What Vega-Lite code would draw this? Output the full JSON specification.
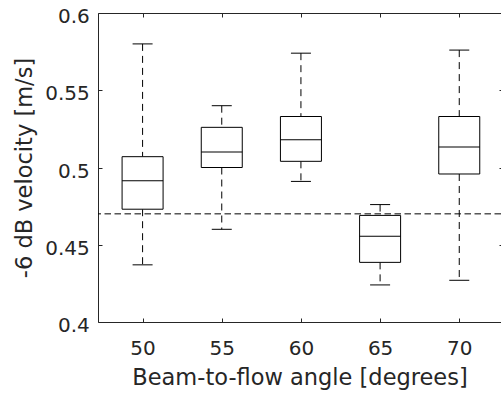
{
  "$schema": "https://vega.github.io/schema/vega-lite/v6.json",
  "autosize": {"type": "none"},
  "padding": {"left": 98, "top": 13, "right": 0, "bottom": 77},
  "width": 403,
  "height": 309,
  "background": "white",
  "config": {
    "view": {"stroke": null},
    "axis": {
      "domainColor": "#262626",
      "tickColor": "#262626",
      "labelColor": "#262626",
      "titleColor": "#262626",
      "labelFont": "DejaVu Sans",
      "titleFont": "DejaVu Sans",
      "labelFontSize": 20,
      "titleFontSize": 22.5,
      "titleFontWeight": "normal",
      "grid": false,
      "labelFlush": false,
      "labelOverlap": false,
      "domainWidth": 1,
      "tickWidth": 1,
      "tickSize": -4
    }
  },
  "datasets": {
    "boxes": [
      {"angle": 50, "lower": 0.437, "q1": 0.473, "median": 0.4915, "q3": 0.507, "upper": 0.580},
      {"angle": 55, "lower": 0.460, "q1": 0.500, "median": 0.510, "q3": 0.526, "upper": 0.540},
      {"angle": 60, "lower": 0.491, "q1": 0.504, "median": 0.518, "q3": 0.533, "upper": 0.574},
      {"angle": 65, "lower": 0.424, "q1": 0.4386, "median": 0.4555, "q3": 0.469, "upper": 0.476},
      {"angle": 70, "lower": 0.427, "q1": 0.4958, "median": 0.5133, "q3": 0.533, "upper": 0.576}
    ],
    "threshold": [{"level": 0.47}]
  },
  "data": {"name": "boxes"},
  "layer": [
    {
      "mark": {"type": "rule", "color": "#000000", "strokeWidth": 1, "strokeDash": [7, 5]},
      "encoding": {
        "x": {"field": "angle", "type": "quantitative",
              "scale": {"domain": [47.5, 72.32], "nice": false, "zero": false},
              "axis": {"orient": "bottom", "values": [50, 55, 60, 65, 70], "title": "Beam-to-flow angle [degrees]",
                       "labelPadding": 20, "titlePadding": 8}},
        "y": {"field": "upper", "type": "quantitative",
              "scale": {"domain": [0.4, 0.6], "nice": false, "zero": false},
              "axis": {"orient": "left", "values": [0.4, 0.45, 0.5, 0.55, 0.6], "format": ".2~f",
                       "title": "-6 dB velocity [m/s]", "labelPadding": 12.7, "labelOffset": 3.5, "titlePadding": 8}},
        "y2": {"field": "q3"}
      }
    },
    {
      "mark": {"type": "rule", "color": "#000000", "strokeWidth": 1, "strokeDash": [7, 5]},
      "encoding": {
        "x": {"field": "angle", "type": "quantitative",
              "axis": {"orient": "top", "values": [50, 55, 60, 65, 70], "labels": false, "title": null}},
        "y": {"field": "q1", "type": "quantitative",
              "axis": {"orient": "right", "values": [0.4, 0.45, 0.5, 0.55, 0.6], "labels": false, "domain": false, "title": null, "tickSize": -2}},
        "y2": {"field": "lower"}
      }
    },
    {
      "mark": {"type": "bar", "size": 41, "fill": "white", "stroke": "#000000", "strokeWidth": 1},
      "encoding": {
        "x": {"field": "angle", "type": "quantitative", "axis": null},
        "y": {"field": "q1", "type": "quantitative", "axis": null},
        "y2": {"field": "q3"}
      }
    },
    {
      "mark": {"type": "tick", "orient": "horizontal", "size": 41, "thickness": 1, "color": "#000000", "opacity": 1},
      "encoding": {
        "x": {"field": "angle", "type": "quantitative", "axis": null},
        "y": {"field": "median", "type": "quantitative", "axis": null}
      }
    },
    {
      "mark": {"type": "tick", "orient": "horizontal", "size": 20, "thickness": 1, "color": "#000000", "opacity": 1},
      "encoding": {
        "x": {"field": "angle", "type": "quantitative", "axis": null},
        "y": {"field": "upper", "type": "quantitative", "axis": null}
      }
    },
    {
      "mark": {"type": "tick", "orient": "horizontal", "size": 20, "thickness": 1, "color": "#000000", "opacity": 1},
      "encoding": {
        "x": {"field": "angle", "type": "quantitative", "axis": null},
        "y": {"field": "lower", "type": "quantitative", "axis": null}
      }
    },
    {
      "data": {"name": "threshold"},
      "mark": {"type": "rule", "color": "#000000", "strokeWidth": 1, "strokeDash": [6.5, 3.5]},
      "encoding": {
        "y": {"field": "level", "type": "quantitative", "axis": null}
      }
    }
  ],
  "resolve": {"axis": {"x": "independent", "y": "independent"}}
}
